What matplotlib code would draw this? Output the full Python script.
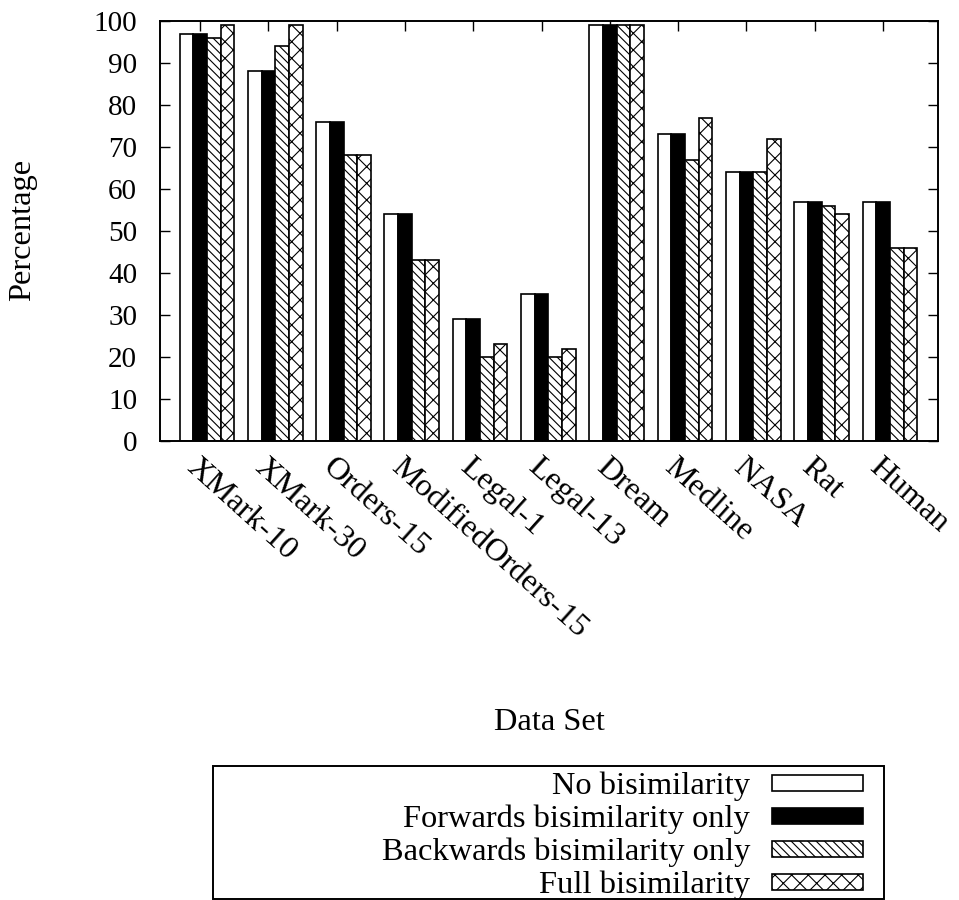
import matplotlib
matplotlib.use("Agg")
import matplotlib.pyplot as plt
from matplotlib.patches import Rectangle
from matplotlib.transforms import ScaledTranslation
import numpy as np

categories = ["XMark-10", "XMark-30", "Orders-15", "ModifiedOrders-15", "Legal-1",
              "Legal-13", "Dream", "Medline", "NASA", "Rat", "Human"]
series_names = ["No bisimilarity", "Forwards bisimilarity only",
                "Backwards bisimilarity only", "Full bisimilarity"]
no_bisim = [97, 88, 76, 54, 29, 35, 99, 73, 64, 57, 57]
fwd_bisim = [97, 88, 76, 54, 29, 35, 99, 73, 64, 57, 57]
bwd_bisim = [96, 94, 68, 43, 20, 20, 99, 67, 64, 56, 46]
full_bisim = [99, 99, 68, 43, 23, 22, 99, 77, 72, 54, 46]
yticks = [0, 10, 20, 30, 40, 50, 60, 70, 80, 90, 100]

series = [no_bisim, fwd_bisim, bwd_bisim, full_bisim]
styles = [dict(facecolor="white", hatch=None),
          dict(facecolor="black", hatch=None),
          dict(facecolor="white", hatch="\\\\\\\\"),
          dict(facecolor="white", hatch="xx")]

plt.rcParams["font.family"] = ["Liberation Serif", "DejaVu Serif"]
plt.rcParams["font.size"] = 23.4
plt.rcParams["hatch.linewidth"] = 0.8

W, H = 959, 900
fig = plt.figure(figsize=(W / 100, H / 100), dpi=100)
ax = fig.add_axes([160 / W, 1 - 441 / H, (938 - 160) / W, (441 - 21) / H])

x = np.arange(len(categories))
bw = 0.2
for j, (vals, st) in enumerate(zip(series, styles)):
    ax.bar(x - 0.3 + bw * j, vals, width=bw, align="edge",
           facecolor=st["facecolor"], hatch=st["hatch"],
           edgecolor="black", linewidth=1.2, zorder=2)

ax.set_xlim(-0.587, 10.805)
ax.set_ylim(0, 100)
ax.set_axisbelow(True)
ax.set_yticks(yticks)
ax.set_yticklabels([str(v) for v in yticks], fontsize=21)
ax.set_xticks(x)
ax.set_xticklabels(categories, rotation=-42, ha="left", va="top",
                   rotation_mode="anchor")
shift = ScaledTranslation(5 / 100, 0, fig.dpi_scale_trans)
for lab in ax.get_xticklabels():
    lab.set_transform(lab.get_transform() + shift)
ax.tick_params(axis="x", direction="in", top=True, bottom=True,
               length=7.2, width=1.0, pad=8.6)
ax.tick_params(axis="y", direction="in", left=True, right=True,
               length=7.2, width=1.0, pad=16.5)
for sp in ax.spines.values():
    sp.set_linewidth(1.4)
    sp.set_zorder(3)

fig.text(23 / W, 1 - 230 / H, "Percentage", rotation=90, ha="center", va="center")
fig.text(549 / W, 1 - 722 / H, "Data Set", ha="center", va="center")

# legend
fig.patches.append(Rectangle((213 / W, 1 - 899 / H), (884 - 213) / W, (899 - 766) / H,
                             transform=fig.transFigure, facecolor="white",
                             edgecolor="black", linewidth=1.4))
row_y = [783, 816, 849, 881.5]
for name, st, yy in zip(series_names, styles, row_y):
    fig.text(750 / W, 1 - yy / H, name, ha="right", va="center_baseline")
    fig.patches.append(Rectangle((772 / W, 1 - (yy + 8) / H), (863 - 772) / W, 16 / H,
                                 transform=fig.transFigure,
                                 facecolor=st["facecolor"], hatch=st["hatch"],
                                 edgecolor="black", linewidth=1.2))

fig.savefig("out.png", dpi=100)
